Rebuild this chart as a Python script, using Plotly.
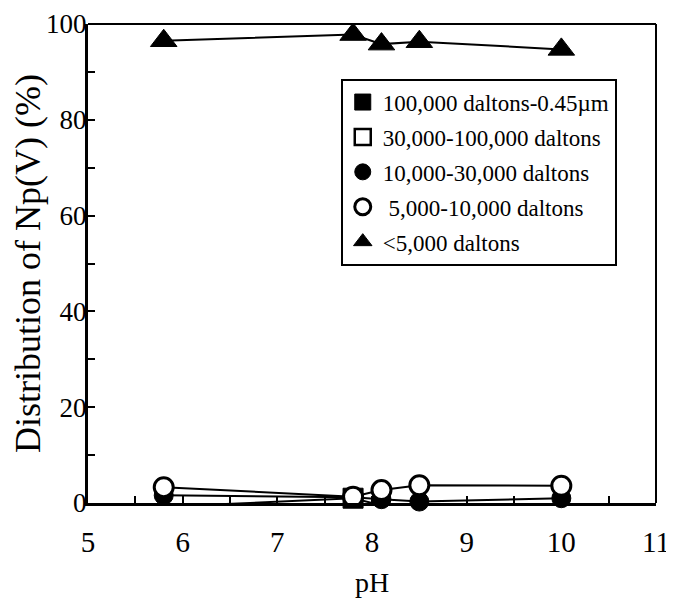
import plotly.graph_objects as go

ph = [5.8, 7.8, 8.1, 8.5, 10.0]
names = ["100,000 daltons-0.45µm", "30,000-100,000 daltons", "10,000-30,000 daltons",
         " 5,000-10,000 daltons", "<5,000 daltons"]
s_100k = [-0.8, 1.0, -0.5, -0.8, -0.9]
s_30k = [-0.8, -0.5, -1.2, -0.8, -0.9]
s_10k = [1.6, 1.2, 0.8, 0.3, 1.0]
s_5k = [3.3, 1.3, 2.7, 3.7, 3.6]
s_lt5k = [96.5, 97.8, 95.8, 96.3, 94.7]

x_tickvals = [5, 5.5, 6, 6.5, 7, 7.5, 8, 8.5, 9, 9.5, 10, 10.5, 11]
x_ticktext = ["5", "", "6", "", "7", "", "8", "", "9", "", "10", "", "11"]
y_tickvals = [0, 10, 20, 30, 40, 50, 60, 70, 80, 90, 100]
y_ticktext = ["0", "", "20", "", "40", "", "60", "", "80", "", "100"]

series = [s_100k, s_30k, s_10k, s_5k, s_lt5k]
symbols = [
    dict(symbol="square", color="black", size=20, line=dict(color="black", width=1)),
    dict(symbol="square", color="white", size=19, line=dict(color="black", width=2.5)),
    dict(symbol="circle", color="black", size=19, line=dict(color="black", width=1)),
    dict(symbol="circle", color="white", size=19, line=dict(color="black", width=3)),
    dict(symbol="triangle-up", color="black", size=23, line=dict(color="black", width=1)),
]

fig = go.Figure()
for ys in series:
    fig.add_trace(go.Scatter(x=ph, y=ys, mode="lines", showlegend=False,
                             line=dict(color="black", width=2), cliponaxis=False))
for i, (name, ys, m) in enumerate(zip(names, series, symbols)):
    fig.add_trace(go.Scatter(x=ph, y=ys, mode="markers", name=name, marker=m,
                             legendgroup=f"g{i}", cliponaxis=False))

font = "Liberation Serif, Times New Roman, serif"
fig.update_layout(
    width=666, height=591,
    margin=dict(l=80, r=18, t=16, b=96, autoexpand=False),
    paper_bgcolor="white", plot_bgcolor="white",
    font=dict(family=font, color="black"),
    showlegend=True,
    legend=dict(x=0.445, y=0.886, xanchor="left", yanchor="top",
                bordercolor="black", borderwidth=2, bgcolor="white",
                font=dict(family=font, size=23, color="black"),
                tracegroupgap=2, itemsizing="trace"),
    shapes=[dict(type="line", xref="paper", yref="paper", x0=0, x1=1, y0=1, y1=1,
                 line=dict(color="black", width=2)),
            dict(type="line", xref="paper", yref="paper", x0=1, x1=1, y0=0, y1=1,
                 line=dict(color="black", width=2))],
)
fig.update_xaxes(range=[5, 11], tickvals=x_tickvals, ticktext=x_ticktext,
                 ticks="inside", ticklen=7, tickwidth=2, tickcolor="black",
                 showline=True, linecolor="black", linewidth=3, mirror=False,
                 showgrid=False, zeroline=False, automargin=False,
                 ticklabelstandoff=11, ticklabeloverflow="allow",
                 tickfont=dict(size=29, family=font),
                 title=dict(text="pH", font=dict(size=28, family=font), standoff=16))
fig.update_yaxes(range=[0, 100], tickvals=y_tickvals, ticktext=y_ticktext,
                 ticks="inside", ticklen=7, tickwidth=2, tickcolor="black",
                 showline=True, linecolor="black", linewidth=3, mirror=False,
                 showgrid=False, zeroline=False, automargin=False,
                 ticklabelstandoff=-7, ticklabeloverflow="allow",
                 tickfont=dict(size=27, family=font),
                 title=dict(text="Distribution of Np(V) (%)", font=dict(size=36, family=font),
                            standoff=10))
fig.write_html("out.html")
